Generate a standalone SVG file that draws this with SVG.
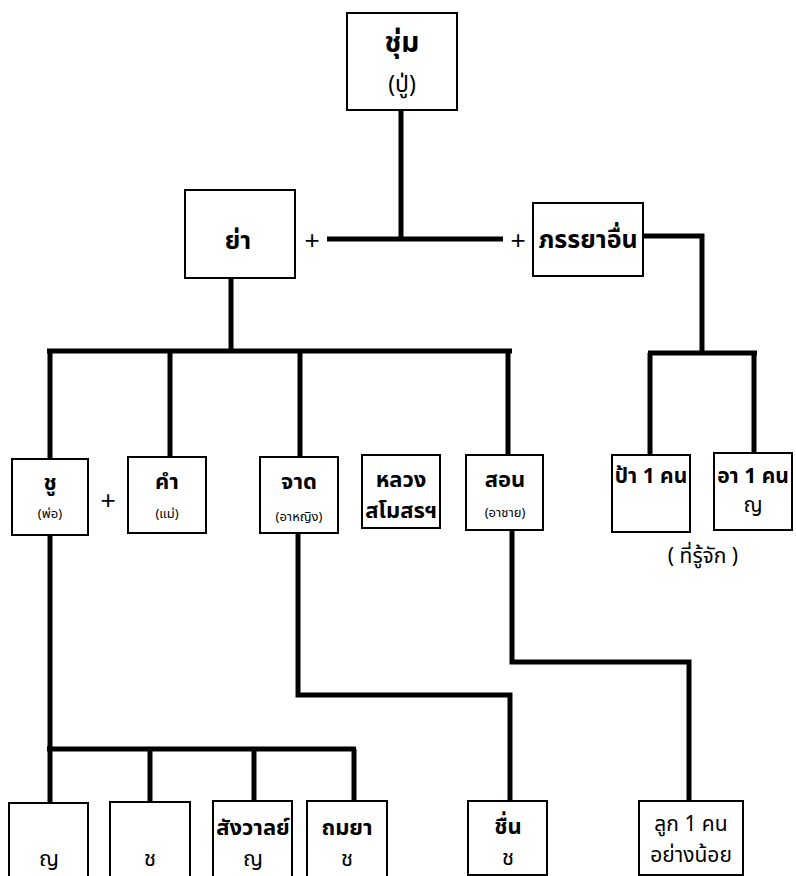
<svg xmlns="http://www.w3.org/2000/svg" width="796" height="876" viewBox="0 0 796 876">
<style>
.box{fill:#fff;stroke:#000;stroke-width:2}
.ln{fill:none;stroke:#000;stroke-width:5;stroke-linejoin:miter;stroke-linecap:butt}
text{font-family:"Noto Sans Thai","Loma","Garuda","Tlwg Typo","DejaVu Sans","Liberation Sans",sans-serif;text-anchor:middle;fill:#000}
.b{font-weight:bold;font-size:22px}
.b2{font-weight:bold;font-size:21px}
.bl{font-weight:bold;font-size:25px}
.bt{font-weight:bold;font-size:28px}
.s{font-size:13px}
.r{font-size:22px}
.m{font-size:23px}
.m2{font-size:21px}
.p{font-family:"Liberation Sans",sans-serif;font-size:26px}
</style>
<rect width="796" height="876" fill="#fff"/>
<g id="connectors">
<path class="ln" d="M401 110 V239"/>
<path class="ln" d="M327 239 H503"/>
<path class="ln" d="M231 278 V351"/>
<path class="ln" d="M47 351 H512"/>
<path class="ln" d="M50 351 V459"/>
<path class="ln" d="M170 351 V457"/>
<path class="ln" d="M300 351 V457"/>
<path class="ln" d="M508 351 V455"/>
<path class="ln" d="M643 236 H702 V353"/>
<path class="ln" d="M648 353 H757"/>
<path class="ln" d="M650 353 V455"/>
<path class="ln" d="M754 353 V453"/>
<path class="ln" d="M50 535 V803"/>
<path class="ln" d="M47 749 H356"/>
<path class="ln" d="M150 749 V802"/>
<path class="ln" d="M254 749 V801"/>
<path class="ln" d="M354 749 V801"/>
<path class="ln" d="M298 533 V695 H510 V801"/>
<path class="ln" d="M512 530 V662 H689 V801"/>
</g>
<g id="n-chum"><rect class="box" x="347" y="13" width="110" height="97"/><text class="bt" x="402" y="52">ชุ่ม</text><text class="m" x="402" y="92">(ปู่)</text></g>
<g id="n-ya"><rect class="box" x="185" y="190" width="110" height="88"/><text class="bl" x="238" y="249">ย่า</text></g>
<g id="plus1"><text class="p" x="312" y="249">+</text></g>
<g id="plus2"><text class="p" x="518" y="249">+</text></g>
<g id="n-other"><rect class="box" x="533" y="203" width="110" height="73"/><text class="bl" x="588" y="248">ภรรยาอื่น</text></g>
<g id="n-chu"><rect class="box" x="12" y="459" width="76" height="76"/><text class="b" x="50" y="490">ชู</text><text class="s" x="50" y="518">(พ่อ)</text></g>
<g id="plus3"><text class="p" x="108" y="509">+</text></g>
<g id="n-kham"><rect class="box" x="128" y="457" width="78" height="76"/><text class="b" x="167" y="489">คำ</text><text class="s" x="167" y="518">(แม่)</text></g>
<g id="n-jat"><rect class="box" x="260" y="457" width="78" height="76"/><text class="b" x="299" y="489">จาด</text><text class="s" x="299" y="521">(อาหญิง)</text></g>
<g id="n-luang"><rect class="box" x="362" y="455" width="78" height="73"/><text class="b" x="401" y="487">หลวง</text><text class="b" x="401" y="518">สโมสรฯ</text></g>
<g id="n-son"><rect class="box" x="466" y="455" width="77" height="75"/><text class="b" x="505" y="487">สอน</text><text class="s" x="505" y="517">(อาชาย)</text></g>
<g id="n-pa"><rect class="box" x="612" y="455" width="78" height="77"/><text class="b2" x="651" y="483">ป้า 1 คน</text></g>
<g id="n-a"><rect class="box" x="714" y="453" width="78" height="77"/><text class="b2" x="753" y="483">อา 1 คน</text><text class="m2" x="753" y="512">ญ</text></g>
<g id="known"><text class="m2" x="703" y="563">( ที่รู้จัก )</text></g>
<g id="n-c1"><rect class="box" x="9" y="803" width="79" height="80"/><text class="r" x="49" y="866">ญ</text></g>
<g id="n-c2"><rect class="box" x="110" y="802" width="80" height="80"/><text class="r" x="150" y="866">ช</text></g>
<g id="n-sangwan"><rect class="box" x="213" y="801" width="79" height="80"/><text class="b" x="253" y="835">สังวาลย์</text><text class="r" x="253" y="866">ญ</text></g>
<g id="n-thomya"><rect class="box" x="307" y="801" width="80" height="80"/><text class="b" x="347" y="835">ถมยา</text><text class="r" x="347" y="866">ช</text></g>
<g id="n-chuen"><rect class="box" x="468" y="801" width="79" height="74"/><text class="b" x="508" y="834">ชื่น</text><text class="r" x="508" y="865">ช</text></g>
<g id="n-luk"><rect class="box" x="639" y="801" width="104" height="74"/><text class="m2" x="691" y="831">ลูก 1 คน</text><text class="m2" x="691" y="862">อย่างน้อย</text></g>
</svg>
